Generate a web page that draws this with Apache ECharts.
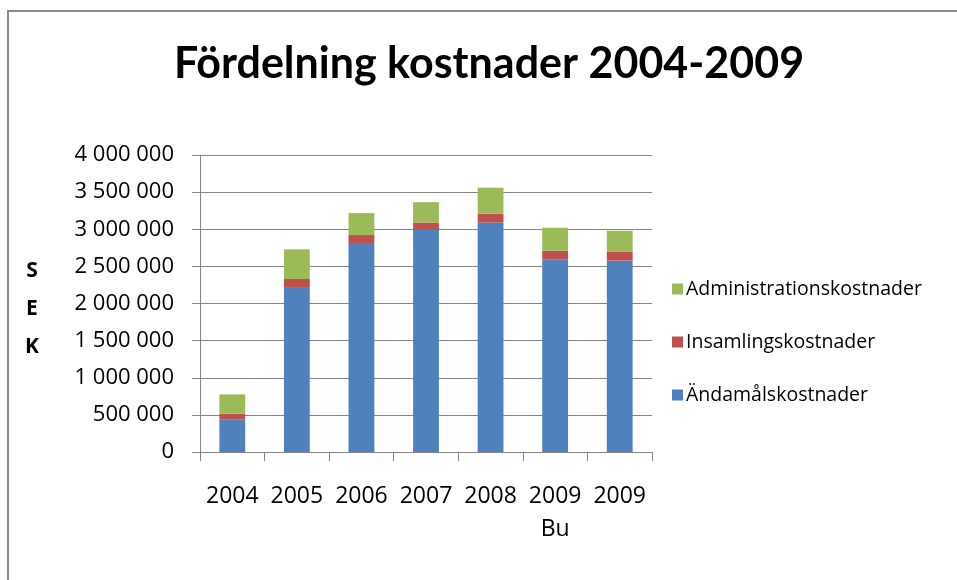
<!DOCTYPE html>
<html>
<head>
<meta charset="utf-8">
<script src="https://cdn.jsdelivr.net/npm/echarts@6/dist/echarts.min.js"></script>
<style>
html,body{margin:0;padding:0;background:#fff;}
#c{width:957px;height:580px;}
</style>
</head>
<body>
<div id="c"></div>
<script>
const categories = ['2004', '2005', '2006', '2007', '2008', '2009\nBu', '2009'];
const andamal = [435000, 2210000, 2815000, 2990000, 3090000, 2590000, 2577000];
const insamling = [81000, 120000, 107000, 100000, 120000, 120000, 123000];
const admin = [260000, 400000, 295000, 275000, 350000, 310000, 280000];
const yTicks = { min: 0, max: 4000000, interval: 500000 };
const titleText = 'Fördelning kostnader 2004-2009';
const yAxisName = 'S\nE\nK';
const seriesNames = ['Ändamålskostnader', 'Insamlingskostnader', 'Administrationskostnader'];

const chart = echarts.init(document.getElementById('c'));
const font = '"Open Sans", sans-serif';
function fmt(v) {
  return String(v).replace(/\B(?=(\d{3})+(?!\d))/g, ' ');
}
chart.setOption({
  animation: false,
  backgroundColor: '#fff',
  grid: { left: 200, right: 305, top: 155, bottom: 128, containLabel: false },
  legend: {
    orient: 'vertical',
    left: 667,
    top: 273,
    itemWidth: 11,
    itemHeight: 11,
    itemGap: 31,
    icon: 'rect',
    data: [seriesNames[2], seriesNames[1], seriesNames[0]],
    textStyle: { fontFamily: font, fontSize: 19.5, color: '#000', lineHeight: 22, padding: [0, 0, 0, -2] }
  },
  xAxis: {
    type: 'category',
    data: categories,
    axisLine: { lineStyle: { color: '#868686', width: 1 } },
    axisTick: { show: true, length: 9, lineStyle: { color: '#868686' } },
    axisLabel: { interval: 0, fontFamily: font, fontSize: 23, color: '#000', margin: 28, lineHeight: 33 }
  },
  yAxis: {
    type: 'value',
    min: yTicks.min,
    max: yTicks.max,
    interval: yTicks.interval,
    axisLine: { show: true, lineStyle: { color: '#868686', width: 1 } },
    axisTick: { show: true, length: 8, lineStyle: { color: '#868686' } },
    splitLine: { lineStyle: { color: '#868686', width: 1 } },
    axisLabel: { fontFamily: font, fontSize: 22, color: '#000', margin: 26, formatter: fmt }
  },
  series: [
    { name: seriesNames[0], type: 'bar', stack: 't', data: andamal, barWidth: '40%', itemStyle: { color: '#4F81BD' } },
    { name: seriesNames[1], type: 'bar', stack: 't', data: insamling, itemStyle: { color: '#C0504D' } },
    { name: seriesNames[2], type: 'bar', stack: 't', data: admin, itemStyle: { color: '#9BBB59' } }
  ],
  graphic: [
    { type: 'line', shape: { x1: 8, y1: 11, x2: 957, y2: 11 }, style: { stroke: '#8a8a8a', lineWidth: 2 } },
    { type: 'line', shape: { x1: 8, y1: 10, x2: 8, y2: 580 }, style: { stroke: '#8a8a8a', lineWidth: 2 } },
    { type: 'text', x: 489, y: 64, style: { text: titleText, align: 'center', verticalAlign: 'middle', font: 'bold 43px Lato, "Open Sans", sans-serif', fill: '#000' } },
    { type: 'text', x: 32, y: 309, style: { text: yAxisName, align: 'center', verticalAlign: 'middle', font: 'bold 21px "Open Sans", sans-serif', lineHeight: 38, fill: '#000' } }
  ]
});
</script>
</body>
</html>
